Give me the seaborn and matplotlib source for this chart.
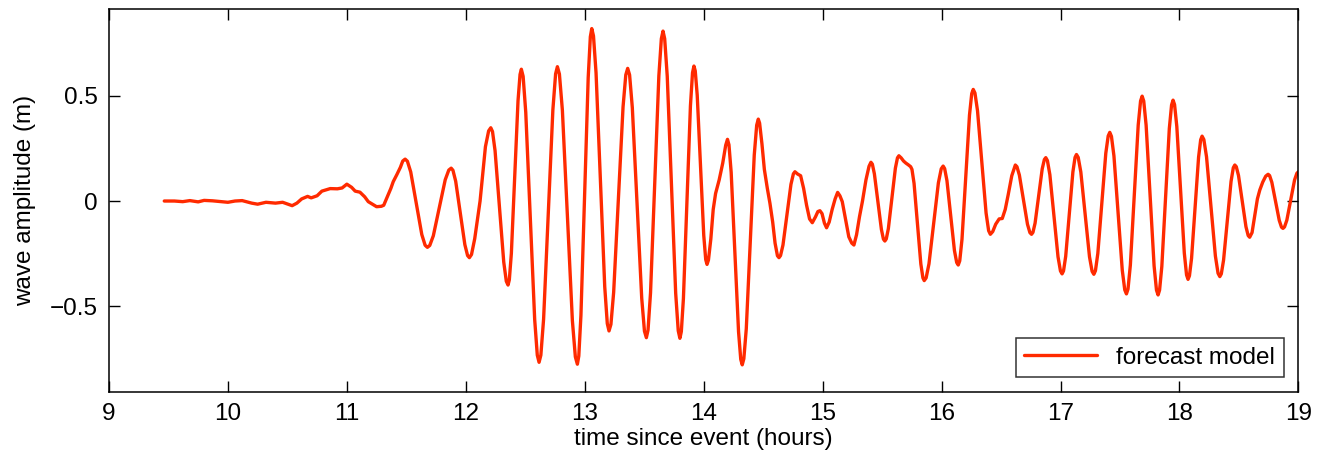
import numpy as np
import pandas as pd
import matplotlib
matplotlib.use("Agg")
import matplotlib.pyplot as plt
import seaborn as sns

# time since event (hours), one row per wiggle
hours = [
    9.465, 9.55, 9.62, 9.68, 9.75, 9.80, 9.87, 9.93, 10.00, 10.06,
    10.12, 10.20, 10.25, 10.32, 10.40, 10.46, 10.54, 10.58, 10.62, 10.67,
    10.70, 10.75, 10.79, 10.86, 10.92, 10.96, 11.00, 11.04, 11.07, 11.11,
    11.15, 11.18, 11.25, 11.29,
    11.31, 11.34, 11.37, 11.39, 11.42, 11.45, 11.47, 11.49,
    11.509, 11.537, 11.584, 11.630, 11.658, 11.677,
    11.697, 11.727, 11.777, 11.827, 11.857, 11.877,
    11.892, 11.915, 11.954, 11.992, 12.015, 12.03,
    12.048, 12.075, 12.12, 12.165, 12.192, 12.21,
    12.2245, 12.246, 12.2825, 12.319, 12.3405, 12.355,
    12.366, 12.383, 12.411, 12.439, 12.456, 12.467,
    12.482, 12.504, 12.5415, 12.579, 12.601, 12.616,
    12.631, 12.654, 12.693, 12.732, 12.755, 12.77,
    12.787, 12.812, 12.854, 12.896, 12.921, 12.938,
    12.950, 12.968, 12.9985, 13.029, 13.047, 13.059,
    13.0735, 13.095, 13.1315, 13.168, 13.1895, 13.204,
    13.220, 13.243, 13.2825, 13.322, 13.345, 13.361,
    13.377, 13.400, 13.4395, 13.479, 13.502, 13.518,
    13.532, 13.553, 13.588, 13.623, 13.644, 13.658,
    13.672, 13.6935, 13.729, 13.7645, 13.786, 13.80,
    13.812, 13.8295, 13.859, 13.8885, 13.906, 13.918,
    13.929, 13.9455, 13.973, 14.0005, 14.017, 14.028,
    14.04, 14.06, 14.08, 14.10, 14.13, 14.16, 14.185, 14.20,
    14.2124, 14.231, 14.262, 14.293, 14.3116, 14.324,
    14.3375, 14.358, 14.3915, 14.425, 14.4455, 14.459,
    14.47, 14.49, 14.51, 14.535, 14.557, 14.58, 14.60, 14.62, 14.633,
    14.646, 14.6665, 14.70, 14.7335, 14.754, 14.767,
    14.79, 14.815, 14.84, 14.865, 14.89, 14.913, 14.94, 14.96, 14.977,
    14.995, 15.015, 15.033, 15.055, 15.08, 15.105, 15.126, 15.145, 15.165,
    15.19, 15.22, 15.245, 15.263, 15.285, 15.31, 15.335, 15.364, 15.39, 15.406,
    15.418, 15.435, 15.4645, 15.494, 15.511, 15.523,
    15.535, 15.5525, 15.582, 15.6115, 15.629, 15.641,
    15.66, 15.68, 15.70, 15.72, 15.74,
    15.751, 15.7685, 15.797, 15.8255, 15.843, 15.854,
    15.870, 15.894, 15.9335, 15.973, 15.997, 16.013,
    16.0257, 16.045, 16.0765, 16.108, 16.127, 16.14,
    16.1526, 16.1715, 16.203, 16.2345, 16.2534, 16.266,
    16.2804, 16.302, 16.338, 16.374, 16.3956, 16.41,
    16.43, 16.455, 16.484, 16.51, 16.535, 16.56, 16.59, 16.62,
    16.6336, 16.654, 16.688, 16.722, 16.7424, 16.756,
    16.768, 16.786, 16.816, 16.846, 16.864, 16.876,
    16.8897, 16.9103, 16.9445, 16.9788, 16.9993, 17.013,
    17.0251, 17.0433, 17.0735, 17.1038, 17.1219, 17.134,
    17.1486, 17.1705, 17.207, 17.2435, 17.2654, 17.28,
    17.2934, 17.3135, 17.347, 17.3805, 17.4006, 17.414,
    17.428, 17.449, 17.484, 17.519, 17.540, 17.554,
    17.5672, 17.587, 17.62, 17.653, 17.6728, 17.686,
    17.6994, 17.7195, 17.753, 17.7865, 17.8066, 17.82,
    17.8326, 17.8515, 17.883, 17.9145, 17.9334, 17.946,
    17.9586, 17.9775, 18.009, 18.0405, 18.0594, 18.072,
    18.0838, 18.1015, 18.131, 18.1605, 18.1782, 18.19,
    18.2049, 18.2273, 18.2645, 18.3018, 18.3241, 18.339,
    18.3516, 18.3705, 18.402, 18.4335, 18.4524, 18.465,
    18.4775, 18.4963, 18.5275, 18.5588, 18.5775, 18.59,
    18.61, 18.635, 18.655, 18.675, 18.70, 18.725, 18.745,
    18.7575, 18.7763, 18.8075, 18.8388, 18.8575, 18.87,
    18.883, 18.9025, 18.935, 18.9675, 18.987, 19.0,
]
# wave amplitude (m), same rows as hours
amplitude = [
    0.000, 0.000, -0.003, 0.002, -0.004, 0.003, 0.001, -0.002, -0.006, 0.000,
    0.002, -0.010, -0.015, -0.006, -0.010, -0.006, -0.022, -0.010, 0.010, 0.022,
    0.015, 0.025, 0.047, 0.059, 0.058, 0.062, 0.080, 0.065, 0.047, 0.042,
    0.020, -0.003, -0.027, -0.025,
    -0.020, 0.020, 0.060, 0.092, 0.125, 0.160, 0.190, 0.199,
    0.189, 0.138, -0.011, -0.159, -0.210, -0.220,
    -0.211, -0.165, -0.032, 0.101, 0.147, 0.156,
    0.146, 0.094, -0.057, -0.207, -0.259, -0.269,
    -0.254, -0.179, 0.000, 0.258, 0.333, 0.348,
    0.330, 0.239, -0.026, -0.290, -0.381, -0.399,
    -0.374, -0.249, 0.114, 0.476, 0.601, 0.626,
    0.592, 0.422, -0.070, -0.562, -0.732, -0.766,
    -0.732, -0.561, -0.064, 0.433, 0.604, 0.638,
    0.603, 0.431, -0.069, -0.568, -0.740, -0.775,
    -0.736, -0.542, 0.022, 0.586, 0.780, 0.819,
    0.784, 0.609, 0.101, -0.407, -0.582, -0.617,
    -0.586, -0.434, 0.007, 0.447, 0.599, 0.630,
    0.599, 0.443, -0.010, -0.462, -0.618, -0.649,
    -0.613, -0.436, 0.079, 0.594, 0.771, 0.807,
    0.771, 0.593, 0.078, -0.438, -0.616, -0.652,
    -0.620, -0.463, -0.006, 0.452, 0.609, 0.641,
    0.618, 0.503, 0.170, -0.163, -0.278, -0.301,
    -0.280, -0.180, -0.040, 0.036, 0.100, 0.180, 0.265, 0.293,
    0.267, 0.136, -0.243, -0.621, -0.752, -0.778,
    -0.749, -0.607, -0.195, 0.218, 0.360, 0.389,
    0.370, 0.270, 0.150, 0.060, -0.011, -0.100, -0.200, -0.260, -0.269,
    -0.259, -0.209, -0.065, 0.079, 0.129, 0.139,
    0.128, 0.120, 0.060, -0.020, -0.085, -0.103, -0.075, -0.050, -0.046,
    -0.060, -0.105, -0.127, -0.100, -0.040, 0.010, 0.041, 0.025, -0.003,
    -0.080, -0.170, -0.200, -0.209, -0.160, -0.074, 0.000, 0.100, 0.165, 0.184,
    0.175, 0.129, -0.003, -0.135, -0.181, -0.190,
    -0.180, -0.131, 0.013, 0.156, 0.205, 0.215,
    0.205, 0.190, 0.180, 0.172, 0.163,
    0.150, 0.084, -0.108, -0.299, -0.365, -0.378,
    -0.365, -0.298, -0.106, 0.086, 0.153, 0.166,
    0.154, 0.097, -0.069, -0.235, -0.292, -0.304,
    -0.284, -0.182, 0.113, 0.408, 0.510, 0.530,
    0.513, 0.429, 0.186, -0.057, -0.141, -0.158,
    -0.145, -0.110, -0.085, -0.083, -0.040, 0.030, 0.120, 0.171,
    0.163, 0.123, 0.007, -0.110, -0.150, -0.158,
    -0.149, -0.105, 0.024, 0.153, 0.197, 0.206,
    0.192, 0.125, -0.070, -0.265, -0.332, -0.346,
    -0.332, -0.263, -0.063, 0.138, 0.207, 0.221,
    0.207, 0.138, -0.064, -0.265, -0.334, -0.348,
    -0.331, -0.249, -0.011, 0.227, 0.309, 0.326,
    0.307, 0.214, -0.058, -0.329, -0.422, -0.441,
    -0.418, -0.304, 0.029, 0.361, 0.475, 0.498,
    0.475, 0.360, 0.026, -0.308, -0.423, -0.446,
    -0.423, -0.311, 0.017, 0.344, 0.456, 0.479,
    0.458, 0.354, 0.054, -0.247, -0.351, -0.372,
    -0.355, -0.272, -0.032, 0.208, 0.291, 0.308,
    0.292, 0.210, -0.026, -0.261, -0.343, -0.359,
    -0.346, -0.281, -0.094, 0.093, 0.158, 0.171,
    0.163, 0.121, -0.001, -0.122, -0.164, -0.172,
    -0.150, -0.060, 0.010, 0.052, 0.090, 0.118, 0.127,
    0.121, 0.089, -0.002, -0.092, -0.124, -0.130,
    -0.123, -0.091, 0.005, 0.100, 0.132, 0.139,
]
x_ticks = [9, 10, 11, 12, 13, 14, 15, 16, 17, 18, 19]
y_ticks = [-0.5, 0, 0.5]
y_tick_labels = ["\u22120.5", "0", "0.5"]

assert len(hours) == len(amplitude)

sns.set_style("ticks")
plt.rcParams["font.family"] = ["Liberation Sans", "DejaVu Sans"]
plt.rcParams["text.color"] = "black"
plt.rcParams["axes.labelcolor"] = "black"

df = pd.DataFrame({"hours": hours, "amplitude": amplitude})

fig = plt.figure(figsize=(13.32, 4.66), dpi=100)
ax = fig.add_axes([0.0818, 0.1588, 0.8930, 0.8219])

sns.lineplot(data=df, x="hours", y="amplitude", ax=ax, color="#ff2a00",
             linewidth=2.4, estimator=None, sort=False, label="forecast model")
for line in ax.lines:
    line.set_solid_joinstyle("round")

ax.set_xlim(9, 19)
ax.set_ylim(-0.907, 0.912)
ax.set_xticks(x_ticks)
ax.set_yticks(y_ticks)
ax.set_yticklabels(y_tick_labels)
ax.tick_params(direction="in", length=8, width=1, top=True, right=True,
               labelsize=17.5, pad=8, color="black", labelcolor="black")
for s in ax.spines.values():
    s.set_visible(True)
    s.set_linewidth(1.1)
    s.set_color("black")

ax.set_xlabel("time since event (hours)", fontsize=17.5, labelpad=2)
ax.set_ylabel("wave amplitude (m)", fontsize=17.5, labelpad=10)

leg = ax.legend(loc="lower right", fontsize=17.5, frameon=True, fancybox=False,
                edgecolor="black", handlelength=3.0, borderpad=0.35,
                borderaxespad=0.6)
leg.get_frame().set_linewidth(1.1)

fig.savefig("out.png", dpi=100)
